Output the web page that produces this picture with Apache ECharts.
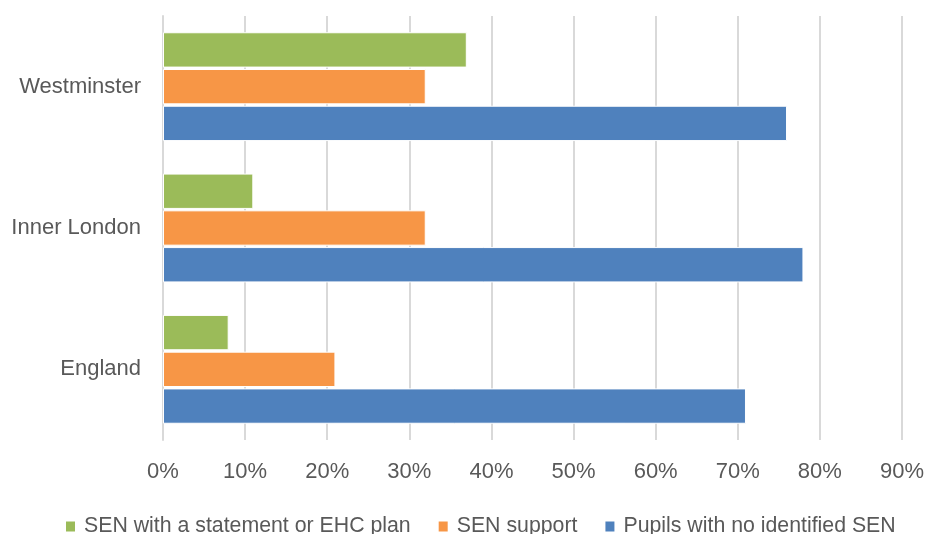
<!DOCTYPE html>
<html><head><meta charset="utf-8">
<script src="https://cdn.jsdelivr.net/npm/echarts@6/dist/echarts.min.js"></script>
<style>html,body{margin:0;padding:0;background:#fff}#c{width:927px;height:534px}</style>
</head><body><div id="c"></div>
<script>
const categories = ['England', 'Inner London', 'Westminster'];
const seriesNames = ['SEN with a statement or EHC plan', 'SEN support', 'Pupils with no identified SEN'];
const senStatement = [8, 11, 37];
const senSupport = [21, 32, 32];
const noSen = [71, 78, 76];
const colors = ['#9BBB59', '#F79646', '#4F81BD'];
const font = 'Liberation Sans';
const chart = echarts.init(document.getElementById('c'));
const values = [senStatement, senSupport, noSen];
chart.setOption({
  animation: false,
  grid: {left: 163, right: 25, top: 16, bottom: 94, containLabel: false},
  legend: {
    bottom: -8, left: 59, itemWidth: 11, itemHeight: 12, itemGap: 26,
    icon: 'rect',
    textStyle: {fontFamily: font, fontSize: 21.3, color: '#595959', padding: [0, 0, 0, 3]},
    data: seriesNames
  },
  xAxis: {
    type: 'value', min: 0, max: 90, interval: 10,
    axisLabel: {formatter: '{value}%', fontFamily: font, fontSize: 22, color: '#595959', margin: 21},
    splitLine: {show: true, lineStyle: {color: '#D9D9D9', width: 2}},
    axisLine: {show: false}, axisTick: {show: false}
  },
  yAxis: {
    type: 'category', data: categories,
    axisLabel: {fontFamily: font, fontSize: 22, color: '#595959', margin: 22},
    axisLine: {show: true, lineStyle: {color: '#D9D9D9', width: 2}},
    axisTick: {show: false}
  },
  series: seriesNames.map((n, i) => ({
    name: n, type: 'bar', data: values[i],
    barGap: '4%', barCategoryGap: '23%',
    itemStyle: {color: colors[i], borderColor: '#fff', borderWidth: 1}
  }))
});
</script></body></html>
